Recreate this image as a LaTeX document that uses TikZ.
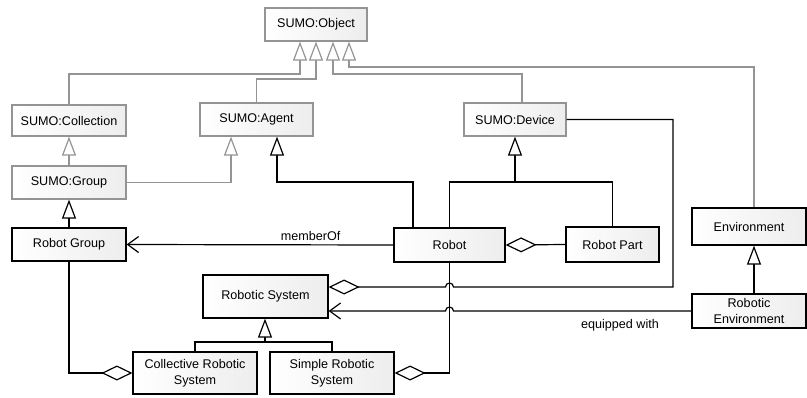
\documentclass[tikz,border=0pt]{standalone}
\usepackage{fontspec}
\setmainfont{Liberation Sans}
\usetikzlibrary{arrows.meta,calc}

\tikzset{
  x=1pt, y=-1pt,
  every node/.style={font=\fontsize{12.6}{16.5}\selectfont, text=black},
  box/.style={rectangle, draw=black, line width=1.2pt, align=center,
    inner sep=0pt, left color=white, right color=black!7},
  sumo/.style={box, draw=black!42},
  ln/.style={draw=black, line width=1.2pt},
  lngray/.style={draw=black!42, line width=1.2pt},
  gen/.style={ln, -{Triangle[open, length=19pt, width=14pt, fill=white]}},
  gengray/.style={lngray, -{Triangle[open, length=19pt, width=14pt, fill=white]}},
  agg/.style={ln, -{Diamond[open, length=31pt, width=15pt, fill=white]}},
  assoc/.style={ln, -{Straight Barb[length=11pt, width=16pt]}},
}

\begin{document}
\begin{tikzpicture}
\useasboundingbox (0,0) rectangle (807,397);

% classes
\node[sumo, minimum width=102pt, minimum height=33pt] (obj)    at (316,24.5)  {SUMO:Object};
\node[sumo, minimum width=114pt, minimum height=31pt] (coll)   at (69,120.5)  {SUMO:Collection};
\node[sumo, minimum width=113pt, minimum height=33pt] (agent)  at (256.5,119.5) {SUMO:Agent};
\node[sumo, minimum width=102pt, minimum height=33pt] (device) at (515,119.5)  {SUMO:Device};
\node[sumo, minimum width=114pt, minimum height=33pt] (group)  at (69,182.5)  {SUMO:Group};

\node[box, minimum width=114pt, minimum height=33pt] (rgroup)  at (69,244.5)  {Robot Group};
\node[box, minimum width=111pt, minimum height=34pt] (robot)   at (449.5,245) {Robot};
\node[box, minimum width=93pt,  minimum height=35pt] (rpart)   at (612.5,244.5) {Robot Part};
\node[box, minimum width=114pt, minimum height=37pt] (env)     at (749,226.5) {Environment};
\node[box, minimum width=114pt, minimum height=34pt] (renv)    at (749,311)   {Robotic\\Environment};
\node[box, minimum width=125pt, minimum height=43pt] (rsys)    at (265.5,296.5) {Robotic System};
\node[box, minimum width=124pt, minimum height=42pt] (collsys) at (195,373)   {Collective Robotic\\System};
\node[box, minimum width=124pt, minimum height=42pt] (simple)  at (332,373)   {Simple Robotic\\System};

% routing points
\coordinate (j1) at (300,74);
\coordinate (j2) at (316,79);
\coordinate (j3) at (333,74);
\coordinate (j4) at (349,67);
\coordinate (dx) at (522,0);
\coordinate (ex) at (754,0);
\coordinate (ax) at (231,0);
\coordinate (rx) at (413,0);
\coordinate (k1) at (277,182);
\coordinate (k2) at (515,182);
\coordinate (k3) at (265,342);
\coordinate (d1) at (673,287);

% generalizations into the SUMO upper ontology
\draw[gengray] (coll.north) |- (j1) -- (j1 |- obj.south);
\draw[gengray] (agent.north) |- (j2) -- (j2 |- obj.south);
\draw[gengray] (dx |- device.north) |- (j3) -- (j3 |- obj.south);
\draw[gengray] (ex |- env.north) |- (j4) -- (j4 |- obj.south);
\draw[gengray] (group.north) -- (coll.south);
\draw[gengray] (group.east) -| (ax |- agent.south);

% domain generalizations
\draw[gen] (rgroup.north) -- (group.south);
\draw[gen] (rx |- robot.north) |- (k1) -- (k1 |- agent.south);
\draw[ln] (robot.north) |- (rpart.north |- k2) -- (rpart.north);
\draw[gen] (k2) -- (k2 |- device.south);
\draw[gen] (ex |- renv.north) -- (ex |- env.south);
\draw[ln] (collsys.north) |- (simple.north |- k3) -- (simple.north);
\draw[gen] (k3) -- (k3 |- rsys.south);

% associations and aggregations
\draw[assoc] (robot.west) -- (rgroup.east)
  node[pos=0.31, above=4pt, inner sep=0pt] {memberOf};
\draw[agg] (rpart.west) -- (robot.east);
\draw[agg] (device.east) -| (d1)
  -- ($(robot.south |- d1)+(4,0)$) arc[start angle=0, end angle=180, radius=4pt]
  -- (rsys.east |- d1);
\draw[assoc] (renv.west)
  -- ($(robot.south |- renv.west)+(4,0)$) arc[start angle=0, end angle=180, radius=4pt]
  -- (rsys.east |- renv.west);
\node[inner sep=0pt] (eqlbl) at (620,325) {equipped with};
\draw[agg] (robot.south) |- (simple.east);
\draw[agg] (rgroup.south) |- (collsys.west);

\end{tikzpicture}
\end{document}
